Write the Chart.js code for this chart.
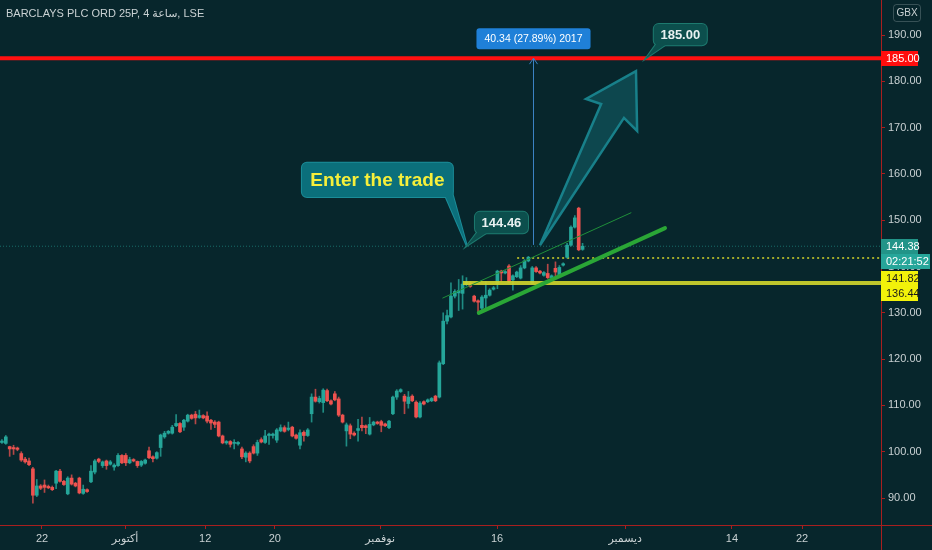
<!DOCTYPE html>
<html>
<head>
<meta charset="utf-8">
<script src="https://cdn.jsdelivr.net/npm/chart.js@4.4.1/dist/chart.umd.min.js"></script>
<style>
html,body{margin:0;padding:0;background:#07262c;overflow:hidden;}
canvas{display:block;}
</style>
</head>
<body>
<canvas id="chart" width="932" height="550"></canvas>
<script>
"use strict";

// BARC, 4h candles
const opens = [
	102.0, 101.8, 101.1, 100.9, 100.8, 99.6, 98.4, 98.0, 96.3, 90.6,
	92.6, 92.8, 92.5, 92.3, 93.2, 95.8, 93.6, 90.9, 94.3, 93.2,
	94.3, 91.0, 91.8, 93.5, 95.6, 98.4, 97.0, 98.0, 97.3, 96.7,
	97.0, 99.2, 99.2, 97.6, 98.3, 97.9, 97.1, 97.5, 100.2, 98.9,
	98.6, 100.9, 103.2, 104.0, 104.0, 105.6, 106.1, 105.3, 106.6, 107.9,
	108.1, 107.4, 107.8, 107.7, 106.8, 106.4, 106.4, 103.4, 101.9, 102.2,
	101.8, 101.7, 100.6, 98.8, 99.7, 101.1, 99.7, 102.6, 102.0, 103.5,
	103.5, 102.5, 104.5, 105.2, 104.8, 105.3, 103.6, 101.4, 104.2, 103.5,
	108.2, 111.8, 110.8, 110.6, 113.2, 111.0, 112.5, 111.4, 107.9, 104.5,
	105.6, 104.0, 104.6, 105.7, 105.6, 103.8, 105.8, 106.4, 106.5, 106.0,
	105.2, 108.2, 111.8, 113.0, 112.0, 110.4, 112.0, 110.7, 107.5, 110.8,
	110.8, 111.0, 112.0, 111.8, 119.0, 128.2, 129.1, 133.6, 134.3, 134.2,
	136.1, 136.4, 133.6, 132.6, 131.0, 133.2, 133.8, 135.1, 136.4, 139.0,
	138.6, 140.1, 137.1, 137.8, 137.5, 139.7, 141.2, 136.4, 139.7, 139.0,
	138.1, 138.5, 137.6, 139.6, 137.9, 140.3, 142.0, 144.6, 148.5, 152.6,
	143.7
];
const highs = [
	102.6, 103.5, 101.2, 101.4, 101.0, 100.0, 98.8, 98.6, 96.6, 94.0,
	92.9, 93.9, 92.8, 92.6, 96.0, 96.2, 93.8, 94.6, 95.0, 93.4,
	94.5, 92.8, 92.0, 97.0, 98.3, 98.6, 98.0, 98.2, 98.1, 97.4,
	99.6, 99.4, 99.6, 98.8, 98.5, 98.0, 98.1, 98.4, 101.0, 99.1,
	100.0, 103.8, 104.4, 104.6, 105.7, 108.0, 106.3, 107.0, 108.1, 108.1,
	108.7, 109.0, 108.0, 108.6, 107.0, 106.7, 106.6, 103.6, 102.4, 102.4,
	102.6, 102.2, 101.0, 100.0, 100.0, 101.5, 102.5, 103.0, 104.6, 104.0,
	104.0, 105.0, 105.8, 105.6, 106.4, 105.5, 103.8, 104.7, 104.5, 105.0,
	112.5, 113.5, 112.0, 113.6, 113.5, 111.2, 113.0, 111.8, 108.1, 106.2,
	106.0, 104.3, 107.0, 107.5, 105.8, 107.4, 106.6, 106.6, 106.8, 106.2,
	106.8, 112.0, 113.4, 113.6, 112.4, 113.0, 112.3, 111.0, 110.8, 111.0,
	111.4, 111.7, 112.2, 119.6, 130.0, 130.6, 136.5, 135.0, 137.2, 138.0,
	137.6, 136.8, 133.8, 132.8, 133.7, 136.8, 135.2, 135.7, 139.2, 139.2,
	139.1, 140.4, 138.2, 139.0, 140.2, 141.5, 142.2, 140.0, 140.0, 139.2,
	138.9, 140.5, 138.2, 141.0, 140.2, 140.8, 145.0, 148.8, 151.0, 152.8,
	145.0
];
const lows = [
	101.8, 101.6, 99.0, 99.4, 100.2, 97.9, 97.5, 97.0, 88.9, 90.3,
	91.8, 91.2, 92.0, 91.6, 92.0, 93.4, 92.7, 90.7, 92.8, 92.4,
	90.9, 90.8, 91.2, 93.3, 95.2, 97.6, 96.6, 96.2, 97.1, 96.0,
	96.8, 97.4, 97.0, 97.4, 97.8, 96.6, 96.8, 97.3, 98.5, 97.8,
	98.4, 99.0, 102.9, 103.8, 103.8, 105.4, 104.1, 104.6, 106.4, 107.0,
	106.0, 107.2, 107.1, 106.2, 104.8, 105.2, 103.2, 101.7, 101.6, 101.0,
	100.6, 101.4, 98.5, 97.8, 97.6, 99.5, 99.2, 101.9, 101.8, 101.6,
	102.9, 102.0, 104.3, 104.2, 104.5, 103.2, 102.7, 100.6, 102.3, 103.3,
	106.4, 110.7, 110.5, 108.5, 110.8, 110.1, 111.0, 107.6, 106.2, 101.2,
	102.8, 103.4, 102.3, 104.5, 103.9, 103.6, 105.6, 105.9, 104.3, 105.4,
	105.0, 108.0, 111.3, 112.8, 108.2, 109.4, 110.8, 107.3, 107.3, 110.1,
	110.6, 110.8, 110.8, 111.6, 118.8, 127.6, 128.9, 133.2, 130.5, 130.8,
	135.8, 135.5, 132.3, 129.9, 130.5, 130.5, 133.6, 134.9, 135.2, 136.8,
	138.4, 136.5, 134.9, 137.6, 137.3, 139.5, 141.0, 136.2, 138.7, 138.4,
	137.9, 137.4, 137.4, 137.5, 137.7, 140.1, 141.8, 144.4, 148.3, 143.4,
	143.5
];
const closes = [
	102.3, 103.2, 100.6, 100.6, 100.5, 98.2, 97.8, 97.2, 90.6, 92.6,
	92.1, 92.3, 92.2, 91.8, 95.8, 93.6, 92.9, 94.3, 93.0, 92.6,
	91.1, 91.9, 91.4, 95.8, 98.0, 97.9, 97.8, 97.0, 97.8, 97.1,
	99.2, 97.6, 97.6, 98.3, 98.0, 97.0, 97.9, 98.2, 98.7, 98.5,
	99.8, 103.6, 104.0, 104.4, 105.3, 106.1, 104.3, 106.8, 107.9, 107.2,
	107.3, 107.8, 107.3, 106.6, 106.2, 105.9, 103.4, 101.9, 102.2, 101.6,
	102.0, 102.0, 98.9, 99.7, 98.0, 99.7, 102.0, 102.1, 103.4, 103.8,
	103.8, 104.7, 105.2, 104.4, 105.1, 103.4, 102.9, 104.1, 103.5, 104.7,
	111.8, 110.9, 111.5, 113.3, 111.0, 110.3, 111.2, 107.9, 106.4, 105.8,
	103.8, 103.6, 105.0, 105.2, 105.2, 105.9, 106.4, 106.1, 105.7, 105.6,
	106.6, 111.8, 113.1, 113.4, 110.9, 111.8, 111.0, 107.5, 110.5, 110.3,
	111.2, 111.5, 111.0, 119.2, 128.2, 129.4, 133.6, 134.6, 134.8, 136.2,
	136.6, 135.7, 132.5, 132.3, 133.4, 133.8, 134.9, 135.4, 139.0, 138.6,
	138.9, 136.7, 138.0, 138.8, 139.7, 141.2, 142.0, 139.7, 138.9, 138.6,
	138.7, 137.6, 138.0, 138.8, 139.8, 140.6, 144.6, 148.5, 150.5, 143.6,
	144.38
];

const tickPositions = [10.35, 31.8, 52.5, 70.5, 97.7, 127.9, 161, 188.6, 206.7];
const tickLabels = ['22', 'أكتوبر', '12', '20', 'نوفمبر', '16', 'ديسمبر', '14', '22'];
const priceTicks = [90, 100, 110, 120, 130, 140, 150, 160, 170, 180, 190];

const targetPrice = 185.00;
const entryPrice = 144.46;
const measureFrom = 144.66;
const lastPrice = 144.38;
const resistance = 141.82;
const support = 136.44;

const UP = '#26a69a';
const DOWN = '#ef5350';
const BG = '#07262c';
const AXIS = '#a81f1f';
const TEXT = '#c9d1d3';
const FONT = '"Liberation Sans", "DejaVu Sans", sans-serif';

// drawings, anchored in (bar index, price)
const entryTip = [120.1, entryPrice];
const enterBox = [77.5, 162.4, 116.5, 155.0];
const entryBox = [122.2, 151.8, 135.9, 147.2];
const targetTip = [166.4, targetPrice];
const targetBox = [168.4, 192.4, 182.1, 187.8];
const measureAt = 137.2;
const greenTrend = [[123.2, 130.0], [171.3, 148.3]];
const thinTrend = [[113.9, 133.2], [162.5, 151.6]];
const supportStart = 119.1;
const resistanceStart = 133.1;
const arrowShape = [[139.0, 144.6], [154.8, 175.1], [150.9, 176.2], [163.8, 182.2], [164.1, 169.3], [160.7, 172.1]];

const isUp = i => closes[i] >= opens[i];

function callout(ctx, box, base, tip, fill, stroke) {
	const w = box.r - box.l, h = box.b - box.t;
	ctx.save();
	ctx.lineWidth = 2;
	ctx.strokeStyle = stroke;
	ctx.beginPath(); ctx.roundRect(box.l, box.t, w, h, 5); ctx.stroke();
	ctx.beginPath(); ctx.moveTo(base[0][0], base[0][1]); ctx.lineTo(tip[0], tip[1]); ctx.lineTo(base[1][0], base[1][1]); ctx.closePath(); ctx.stroke();
	ctx.fillStyle = fill;
	ctx.beginPath(); ctx.roundRect(box.l, box.t, w, h, 5); ctx.fill();
	ctx.beginPath(); ctx.moveTo(base[0][0], base[0][1]); ctx.lineTo(tip[0], tip[1]); ctx.lineTo(base[1][0], base[1][1]); ctx.closePath(); ctx.fill();
	ctx.restore();
}

function axisTag(ctx, x, yc, text, fill, color, w) {
	ctx.fillStyle = fill;
	ctx.fillRect(x, Math.round(yc - 7.5), w, 15);
	ctx.fillStyle = color;
	ctx.font = '11px ' + FONT;
	ctx.textAlign = 'left';
	ctx.textBaseline = 'middle';
	ctx.fillText(text, x + 5, Math.round(yc) + 0.5);
}

const drawings = {
	id: 'drawings',
	beforeDraw(chart) {
		const ctx = chart.ctx;
		ctx.save();
		ctx.fillStyle = BG;
		ctx.fillRect(0, 0, chart.width, chart.height);
		ctx.restore();
	},
	beforeDatasetsDraw(chart) {
		const ctx = chart.ctx, a = chart.chartArea;
		const X = v => chart.scales.x.getPixelForValue(v);
		const Y = v => chart.scales.y.getPixelForValue(v);
		ctx.save();
		ctx.lineWidth = 1;
		ctx.strokeStyle = 'rgba(38,166,154,0.55)';
		ctx.setLineDash([1, 2]);
		ctx.beginPath(); ctx.moveTo(a.left, Y(lastPrice)); ctx.lineTo(a.right, Y(lastPrice)); ctx.stroke();
		ctx.strokeStyle = '#d6d62a';
		ctx.lineWidth = 1.5;
		ctx.setLineDash([2, 3]);
		ctx.beginPath(); ctx.moveTo(X(resistanceStart), Y(resistance)); ctx.lineTo(a.right, Y(resistance)); ctx.stroke();
		ctx.restore();
	},
	afterDatasetsDraw(chart) {
		const ctx = chart.ctx, a = chart.chartArea;
		const X = v => chart.scales.x.getPixelForValue(v);
		const Y = v => chart.scales.y.getPixelForValue(v);
		ctx.save();
		ctx.lineCap = 'round';

		// target line
		ctx.strokeStyle = '#ff1010';
		ctx.lineWidth = 4;
		ctx.beginPath(); ctx.moveTo(a.left, Y(targetPrice)); ctx.lineTo(a.right, Y(targetPrice)); ctx.stroke();

		// support line
		ctx.strokeStyle = 'rgba(206,210,44,0.92)';
		ctx.lineWidth = 4;
		ctx.lineCap = 'butt';
		ctx.beginPath(); ctx.moveTo(X(supportStart), Y(support)); ctx.lineTo(a.right, Y(support)); ctx.stroke();

		// trend lines
		ctx.lineCap = 'round';
		ctx.strokeStyle = '#1f8f3a';
		ctx.lineWidth = 1;
		ctx.beginPath(); ctx.moveTo(X(thinTrend[0][0]), Y(thinTrend[0][1])); ctx.lineTo(X(thinTrend[1][0]), Y(thinTrend[1][1])); ctx.stroke();
		ctx.strokeStyle = '#2aa636';
		ctx.lineWidth = 4;
		ctx.beginPath(); ctx.moveTo(X(greenTrend[0][0]), Y(greenTrend[0][1])); ctx.lineTo(X(greenTrend[1][0]), Y(greenTrend[1][1])); ctx.stroke();

		// big arrow
		ctx.lineCap = 'butt';
		ctx.lineJoin = 'miter';
		ctx.beginPath();
		arrowShape.forEach((p, k) => k ? ctx.lineTo(X(p[0]), Y(p[1])) : ctx.moveTo(X(p[0]), Y(p[1])));
		ctx.closePath();
		ctx.fillStyle = 'rgba(20,104,112,0.5)';
		ctx.fill();
		ctx.strokeStyle = '#18808a';
		ctx.lineWidth = 2.5;
		ctx.stroke();

		// measure
		const mx = Math.round(X(measureAt)) + 0.5, my0 = Y(measureFrom), my1 = Y(targetPrice);
		ctx.strokeStyle = '#3b82c4';
		ctx.lineWidth = 1;
		ctx.beginPath(); ctx.moveTo(mx, my0); ctx.lineTo(mx, my1); ctx.stroke();
		ctx.beginPath(); ctx.moveTo(mx - 4, my1 + 6); ctx.lineTo(mx, my1); ctx.lineTo(mx + 4, my1 + 6); ctx.stroke();
		const diff = targetPrice - measureFrom;
		const mtext = diff.toFixed(2) + ' (' + (diff / measureFrom * 100).toFixed(2) + '%) 2017';
		ctx.font = '10.5px ' + FONT;
		const tw = ctx.measureText(mtext).width + 16;
		ctx.fillStyle = '#1f80d8';
		ctx.beginPath(); ctx.roundRect(mx - tw / 2, my1 - 30, tw, 21, 3); ctx.fill();
		ctx.fillStyle = '#ffffff';
		ctx.textAlign = 'center'; ctx.textBaseline = 'middle';
		ctx.fillText(mtext, mx, my1 - 19);

		// callouts
		const tip = [X(entryTip[0]), Y(entryTip[1])];
		let b = {l: X(enterBox[0]), t: Y(enterBox[1]), r: X(enterBox[2]), b: Y(enterBox[3])};
		callout(ctx, b, [[b.r - 8, b.b - 2], [b.r - 2, b.b - 9]], tip, '#0b6f7b', '#1b8c98');
		ctx.fillStyle = '#f6ef3a';
		ctx.font = 'bold 19px ' + FONT;
		ctx.textAlign = 'center'; ctx.textBaseline = 'middle';
		ctx.fillText('Enter the trade', (b.l + b.r) / 2, (b.t + b.b) / 2 + 1);

		b = {l: X(entryBox[0]), t: Y(entryBox[1]), r: X(entryBox[2]), b: Y(entryBox[3])};
		callout(ctx, b, [[b.l + 3, b.b - 2], [b.l + 14, b.b - 2]], tip, '#0c4f4d', '#1d7a6f');
		ctx.fillStyle = '#e9f1f1';
		ctx.font = 'bold 13px ' + FONT;
		ctx.fillText(entryPrice.toFixed(2), (b.l + b.r) / 2, (b.t + b.b) / 2 + 1);

		b = {l: X(targetBox[0]), t: Y(targetBox[1]), r: X(targetBox[2]), b: Y(targetBox[3])};
		callout(ctx, b, [[b.l + 3, b.b - 2], [b.l + 14, b.b - 2]], [X(targetTip[0]), Y(targetTip[1])], '#0c4f4d', '#1d7a6f');
		ctx.fillStyle = '#e9f1f1';
		ctx.fillText(targetPrice.toFixed(2), (b.l + b.r) / 2, (b.t + b.b) / 2 + 1);
		ctx.restore();
	},
	afterDraw(chart) {
		const ctx = chart.ctx, a = chart.chartArea;
		const Y = v => chart.scales.y.getPixelForValue(v);
		ctx.save();
		// axis frame runs to the canvas edges
		ctx.strokeStyle = AXIS;
		ctx.lineWidth = 1;
		ctx.beginPath();
		ctx.moveTo(0, Math.round(a.bottom) + 0.5); ctx.lineTo(chart.width, Math.round(a.bottom) + 0.5);
		ctx.moveTo(Math.round(a.right) + 0.5, 0); ctx.lineTo(Math.round(a.right) + 0.5, chart.height);
		ctx.stroke();

		// title
		ctx.fillStyle = TEXT;
		ctx.font = '11px ' + FONT;
		ctx.textAlign = 'left'; ctx.textBaseline = 'middle';
		ctx.fillText('BARCLAYS PLC ORD 25P, 4 ساعة, LSE', 6, 14);

		// currency
		ctx.strokeStyle = 'rgba(200,210,212,0.25)';
		ctx.lineWidth = 1;
		ctx.beginPath(); ctx.roundRect(a.right + 12.5, 4.5, 27, 17, 3); ctx.stroke();
		ctx.fillStyle = TEXT;
		ctx.font = '10px ' + FONT;
		ctx.textAlign = 'center';
		ctx.fillText('GBX', a.right + 26, 13.5);

		// price tags
		const x0 = a.right;
		axisTag(ctx, x0, Y(targetPrice), targetPrice.toFixed(2), '#ff0d0d', '#ffffff', 37);
		const y0 = Y(lastPrice);
		const y1 = y0 + 15;
		const y2 = Math.max(Y(resistance), y1 + 17);
		const y3 = Math.max(Y(support), y2 + 15);
		axisTag(ctx, x0, y0, lastPrice.toFixed(2), '#229488', '#ffffff', 37);
		axisTag(ctx, x0, y1, '02:21:52', '#26a69a', '#ffffff', 49);
		axisTag(ctx, x0, y2, resistance.toFixed(2), '#f2f20a', '#1a1a1a', 37);
		axisTag(ctx, x0, y3, support.toFixed(2), '#f2f20a', '#1a1a1a', 37);
		ctx.restore();
	}
};

const bodies = opens.map((o, i) => ({x: i, y: [o, closes[i]]}));
const wicks = lows.map((l, i) => ({x: i, y: [l, highs[i]]}));

new Chart(document.getElementById('chart'), {
	type: 'bar',
	data: {
		datasets: [
			{
				data: wicks,
				grouped: false,
				barThickness: 1,
				backgroundColor: c => isUp(c.dataIndex) ? 'rgba(38,166,154,0.8)' : 'rgba(239,83,80,0.75)'
			},
			{
				data: bodies,
				grouped: false,
				barThickness: 3,
				minBarLength: 1,
				backgroundColor: c => isUp(c.dataIndex) ? UP : DOWN
			}
		]
	},
	options: {
		responsive: false,
		animation: false,
		layout: {padding: 0},
		plugins: {legend: {display: false}, tooltip: {enabled: false}},
		scales: {
			x: {
				type: 'linear',
				min: -0.5,
				max: 227.1,
				offset: false,
				grid: {drawOnChartArea: false, offset: false, color: AXIS, tickLength: 4},
				border: {color: AXIS},
				ticks: {
					color: TEXT,
					font: {size: 11, family: FONT},
					autoSkip: false,
					maxRotation: 0,
					callback: (v, i) => tickLabels[i]
				},
				afterBuildTicks: s => { s.ticks = tickPositions.map(v => ({value: v})); },
				afterFit: s => { s.height = 25; s.paddingLeft = 0; s.paddingRight = 0; }
			},
			y: {
				position: 'right',
				min: 84.17,
				max: 197.56,
				grid: {drawOnChartArea: false, color: AXIS, tickLength: 4},
				border: {color: AXIS},
				ticks: {
					color: TEXT,
					font: {size: 11, family: FONT},
					callback: v => Number(v).toFixed(2)
				},
				afterBuildTicks: s => { s.ticks = priceTicks.map(v => ({value: v})); },
				afterFit: s => { s.width = 51; s.paddingTop = 0; s.paddingBottom = 0; }
			}
		}
	},
	plugins: [drawings]
});
</script>
</body>
</html>
